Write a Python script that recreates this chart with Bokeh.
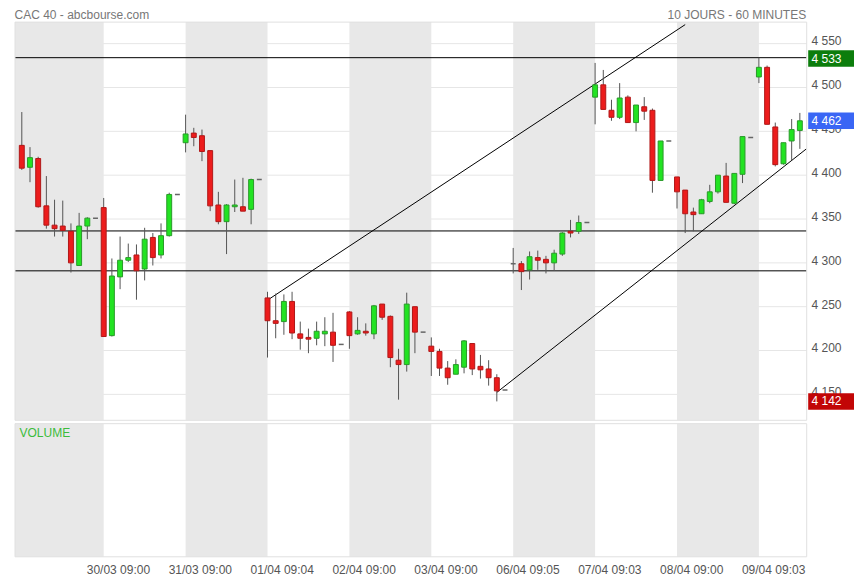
from bokeh.plotting import figure
from bokeh.models import Range1d, FixedTicker, ColumnDataSource
from bokeh.core.properties import value
from bokeh.embed import file_html
from bokeh.resources import INLINE

# ---------------- data ----------------
day_names = ["27/03", "30/03", "31/03", "01/04", "02/04", "03/04", "06/04", "07/04", "08/04", "09/04"]
axis_labels = ["30/03 09:00", "31/03 09:00", "01/04 09:04", "02/04 09:00", "03/04 09:00",
               "06/04 09:05", "07/04 09:03", "08/04 09:00", "09/04 09:03"]
candles_per_day = [9, 9, 9, 9, 9, 9, 9, 9, 9, 6]

opens = [4434, 4409, 4419, 4365, 4343, 4342, 4336, 4297, 4342,
         4363, 4217, 4284, 4303, 4309, 4293, 4329, 4309, 4331,
         4437, 4448, 4445, 4428, 4366, 4347, 4364, 4364, 4361,
         4260, 4234, 4233, 4256, 4219, 4215, 4214, 4219, 4221,
         4244, 4219, 4222, 4219, 4253, 4239, 4189, 4184, 4250,
         4205, 4199, 4180, 4173, 4181, 4208, 4182, 4179, 4169,
         4299, 4299, 4292, 4306, 4304, 4300, 4310, 4336, 4336,
         4489, 4503, 4474, 4466, 4489, 4460, 4478, 4474, 4394,
         4398, 4383, 4358, 4356, 4370, 4381, 4399, 4368, 4401,
         4512, 4523, 4455, 4413, 4439, 4451]
highs = [4472, 4432, 4421, 4399, 4372, 4371, 4345, 4357, 4352,
         4374, 4305, 4330, 4322, 4321, 4340, 4334, 4345, 4380,
         4469, 4454, 4452, 4428, 4381, 4367, 4395, 4397, 4396,
         4267, 4265, 4264, 4267, 4233, 4225, 4233, 4238, 4243,
         4245, 4238, 4231, 4252, 4253, 4240, 4202, 4266, 4250,
         4215, 4202, 4188, 4190, 4212, 4208, 4195, 4189, 4173,
         4317, 4302, 4313, 4314, 4308, 4315, 4335, 4349, 4354,
         4528, 4520, 4486, 4505, 4491, 4480, 4489, 4476, 4439,
         4398, 4383, 4363, 4373, 4389, 4400, 4414, 4402, 4444,
         4534, 4525, 4460, 4437, 4464, 4471]
lows = [4406, 4392, 4363, 4339, 4330, 4330, 4289, 4297, 4327,
        4216, 4216, 4270, 4301, 4258, 4280, 4297, 4305, 4330,
        4426, 4433, 4416, 4359, 4344, 4310, 4358, 4359, 4344,
        4192, 4214, 4218, 4213, 4201, 4197, 4206, 4205, 4187,
        4202, 4218, 4217, 4213, 4235, 4181, 4144, 4176, 4197,
        4171, 4171, 4161, 4173, 4174, 4172, 4168, 4160, 4142,
        4288, 4269, 4281, 4292, 4288, 4291, 4308, 4329, 4333,
        4458, 4475, 4462, 4464, 4460, 4450, 4463, 4380, 4394,
        4362, 4334, 4336, 4356, 4368, 4379, 4369, 4367, 4391,
        4505, 4458, 4410, 4412, 4417, 4430]
closes = [4408, 4420, 4364, 4343, 4339, 4337, 4300, 4342, 4351,
          4216, 4285, 4303, 4306, 4291, 4327, 4306, 4331, 4378,
          4447, 4443, 4427, 4365, 4347, 4366, 4366, 4359, 4395,
          4234, 4231, 4256, 4220, 4214, 4213, 4222, 4222, 4206,
          4217, 4223, 4220, 4251, 4238, 4192, 4184, 4253, 4221,
          4199, 4180, 4169, 4184, 4211, 4179, 4178, 4169, 4154,
          4299, 4290, 4307, 4303, 4300, 4311, 4334, 4334, 4346,
          4503, 4475, 4466, 4488, 4460, 4480, 4473, 4394, 4439,
          4381, 4356, 4355, 4372, 4381, 4400, 4369, 4402, 4444,
          4523, 4458, 4412, 4437, 4452, 4462]
# closing auction ticks for each complete day
close_ticks = [4351, 4378, 4395, 4207, 4221, 4155, 4346, 4439, 4443]

price_ticks = [4150, 4200, 4250, 4300, 4350, 4400, 4450, 4500, 4550]
support_levels = [4534, 4336.4, 4290.9]
upper_trend_x = [30, 81.0]
upper_trend_y = [4257.5, 4571.7]
lower_trend_x = [58, 95.8]
lower_trend_y = [4152.3, 4430.0]
value_tags = [4533, 4462, 4142]
value_tag_text = ["4 533", "4 462", "4 142"]
value_tag_colors = ["#0c7d0c", "#3a66f5", "#c20606"]
title_left = "CAC 40 - abcbourse.com"
title_right = "10 JOURS - 60 MINUTES"
volume_title = "VOLUME"

# ---------------- layout geometry (pixel <-> data) ----------------
W, H = 854, 579
FRAME_BOTTOM = 560       # bottom of the drawing frame, axis labels below it
X0, DX = 21.3, 8.19      # pixel of slot 0, pixels per slot
Y0, DY = 43.3, 0.88      # pixel of 4550, pixels per point


def slot(px):
    return (px - X0) / DX


def price(py):
    return 4550 - (py - Y0) / DY


AREA_L, AREA_R = slot(14.5), slot(806.2)
PRICE_B, PRICE_T = price(421.3), price(21.7)
VOL_B, VOL_T = price(558.3), price(424.7)

SLOTS = 10
xs = []
for d, n in enumerate(candles_per_day):
    xs += [d * SLOTS + h for h in range(n)]

up = dict(x=[], top=[], bottom=[])
dn = dict(x=[], top=[], bottom=[])
flat = dict(x0=[], x1=[], y=[])
for x, o, c in zip(xs, opens, closes):
    if c > o:
        up["x"].append(x); up["top"].append(c); up["bottom"].append(o)
    elif c < o:
        dn["x"].append(x); dn["top"].append(o); dn["bottom"].append(c)
    else:
        flat["x0"].append(x - 0.3); flat["x1"].append(x + 0.3); flat["y"].append(c)

tick_x = [d * SLOTS + 9 for d in range(len(close_ticks))]
for x, v in zip(tick_x, close_ticks):
    flat["x0"].append(x - 0.3); flat["x1"].append(x + 0.3); flat["y"].append(v)

grey_days = [d for d in range(len(day_names)) if d % 2 == 0]
band_l = [AREA_L if d == 0 else d * SLOTS for d in grey_days]
band_r = [min(d * SLOTS + SLOTS, AREA_R) for d in grey_days]

FONT = "Liberation Sans"
BAND = "#e8e8e8"
FRAME = "#e0e0e0"
GRID = "#e6e6e6"

p = figure(width=W, height=H, x_range=Range1d(slot(0), slot(W)),
           y_range=Range1d(price(FRAME_BOTTOM), price(0)),
           x_axis_location="below", y_axis_location=None,
           toolbar_location=None, output_backend="svg",
           min_border=0, min_border_left=0, min_border_right=0, min_border_top=0,
           min_border_bottom=H - FRAME_BOTTOM)
p.outline_line_color = None
p.xgrid.visible = False
p.ygrid.visible = False

# ---- price panel ----
p.segment(x0=AREA_L, x1=AREA_R, y0=price_ticks, y1=price_ticks, line_color=GRID, line_width=1)
p.quad(left=band_l, right=band_r, bottom=PRICE_B, top=PRICE_T, fill_color=BAND, line_color=None)
p.segment(x0=AREA_L, x1=AREA_R, y0=support_levels, y1=support_levels, line_color="black", line_width=1)
p.line(upper_trend_x, upper_trend_y, line_color="black", line_width=1)
p.line(lower_trend_x, lower_trend_y, line_color="black", line_width=1)
p.segment(x0=xs, y0=lows, x1=xs, y1=highs, line_color="#555555", line_width=1)
p.vbar(x="x", top="top", bottom="bottom", width=0.6, source=ColumnDataSource(up),
       fill_color="#22e322", line_color="#2a9a2a", line_width=1)
p.vbar(x="x", top="top", bottom="bottom", width=0.6, source=ColumnDataSource(dn),
       fill_color="#ec1c1c", line_color="#b01818", line_width=1)
p.segment(x0="x0", y0="y", x1="x1", y1="y", source=ColumnDataSource(flat),
          line_color="#666666", line_width=1.5)
p.quad(left=AREA_L, right=AREA_R, bottom=PRICE_B, top=PRICE_T, fill_color=None, line_color=FRAME)

# price scale labels (right)
p.text(x=slot(811), y=[t + 2.5 for t in price_ticks],
       text=[f"{t:,}".replace(",", " ") for t in price_ticks],
       text_font=value(FONT), text_font_size="12px", text_color="#555555",
       text_align="left", text_baseline="middle")
# value tags
p.quad(left=slot(807.7), right=slot(W + 2), bottom=[v - 9.4 for v in value_tags],
       top=[v + 9.4 for v in value_tags], fill_color=value_tag_colors, line_color=None)
p.text(x=slot(811), y=value_tags, text=value_tag_text,
       text_font=value(FONT), text_font_size="12px", text_color="white",
       text_align="left", text_baseline="middle")
# titles
p.text(x=slot(14), y=price(14.2), text=[title_left], text_font=value(FONT), text_font_size="12px",
       text_color="#777777", text_align="left", text_baseline="alphabetic")
p.text(x=slot(805.7), y=price(14.2), text=[title_right], text_font=value(FONT), text_font_size="12px",
       text_color="#777777", text_align="right", text_baseline="alphabetic")

# ---- volume panel ----
p.quad(left=band_l, right=band_r, bottom=VOL_B, top=VOL_T, fill_color=BAND, line_color=None)
p.quad(left=AREA_L, right=AREA_R, bottom=VOL_B, top=VOL_T, fill_color=None, line_color=FRAME)
p.text(x=slot(19), y=price(427.3), text=[volume_title], text_font=value(FONT), text_font_size="12px",
       text_color="#3cbc3c", text_align="left", text_baseline="top")

# ---- time axis ----
label_pos = [d * SLOTS + 1.8 for d in range(1, len(day_names))]
p.xaxis.ticker = FixedTicker(ticks=label_pos)
p.xaxis.major_label_overrides = dict(zip(label_pos, axis_labels))
p.xaxis.axis_line_color = None
p.xaxis.major_tick_line_color = None
p.xaxis.minor_tick_line_color = None
p.xaxis.major_tick_out = 0
p.xaxis.major_tick_in = 0
p.xaxis.major_label_standoff = 4
p.xaxis.major_label_text_font = FONT
p.xaxis.major_label_text_font_size = "12px"
p.xaxis.major_label_text_color = "#555555"

open("out.html", "w").write(file_html(p, INLINE))
